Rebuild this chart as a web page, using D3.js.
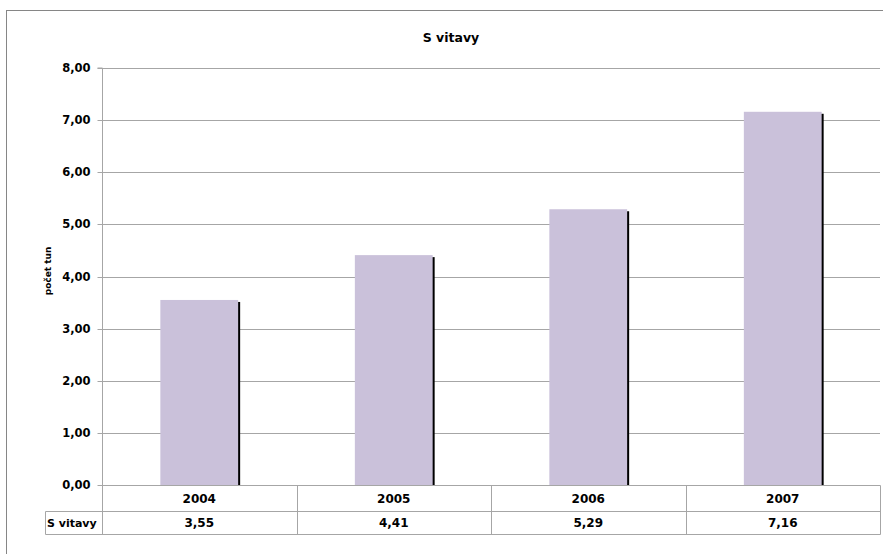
<!DOCTYPE html>
<html><head><meta charset="utf-8">
<script src="https://cdn.jsdelivr.net/npm/d3@7"></script>
<style>body{margin:0;background:#fff}svg{display:block}text{font-family:"DejaVu Sans",sans-serif;font-weight:bold;fill:#000}</style>
</head><body>
<script>
const categories = ["2004","2005","2006","2007"];
const values = [3.55,4.41,5.29,7.16];
const valueLabels = ["3,55","4,41","5,29","7,16"];
const seriesName = "S vitavy";
const title = "S vitavy";
const yTicks = [0,1,2,3,4,5,6,7,8];
const yLabel = "počet tun";

const W=883,H=554;
const L=102,R=880,T=68,B=485;
const svg=d3.select("body").append("svg").attr("width",W).attr("height",H);
svg.append("rect").attr("x",6.5).attr("y",10.5).attr("width",W+20).attr("height",H+20)
  .attr("fill","none").attr("stroke","#868686");

const x=d3.scaleBand().domain(categories).range([L,R]).padding(0);
const y=d3.scaleLinear().domain([0,8]).range([B,T]);
const fmt=d=>d3.format(".2f")(d).replace(".",",");

// gridlines
svg.append("g").selectAll("line").data(yTicks.filter(d=>d>0)).join("line")
  .attr("x1",L).attr("x2",R).attr("y1",d=>Math.round(y(d))+0.5).attr("y2",d=>Math.round(y(d))+0.5)
  .attr("stroke","#a6a6a6");

// y axis
const ax=svg.append("g").attr("transform",`translate(${L+0.5},0)`)
  .call(d3.axisLeft(y).tickValues(yTicks).tickFormat(fmt).tickSize(5).tickPadding(7));
ax.select(".domain").attr("stroke","#a6a6a6").attr("d",`M-5,${T}H0V${B}`);
ax.selectAll(".tick line").attr("stroke","#a6a6a6");
ax.selectAll(".tick").attr("transform",d=>`translate(0,${Math.round(y(d))+0.5})`);
ax.selectAll(".tick text").style("font-size","11.5px").style("font-family","DejaVu Sans").style("font-weight","bold").attr("fill","#000");

// bars
const bw=x.bandwidth()*0.4;
const bx=d=>x(d)+(x.bandwidth()-bw)/2;
const data=categories.map((c,i)=>({c,v:values[i]}));
svg.append("g").selectAll("rect").data(data).join("rect")
  .attr("x",d=>bx(d.c)+2).attr("y",d=>y(d.v)+2).attr("width",bw).attr("height",d=>B-y(d.v)-2)
  .attr("fill","#000");
svg.append("g").selectAll("rect").data(data).join("rect")
  .attr("x",d=>bx(d.c)).attr("y",d=>y(d.v)).attr("width",bw).attr("height",d=>B-y(d.v))
  .attr("fill","#cac1da");

// table
const r1=B, r2=511, r3=534, lx=45;
const tg=svg.append("g").attr("stroke","#a6a6a6").attr("fill","none");
tg.append("path").attr("d",`M${L},${r1+0.5}H${R+0.5}V${r3+0.5}H${lx+0.5}V${r2+0.5}H${R}`);
tg.append("line").attr("x1",L+0.5).attr("x2",L+0.5).attr("y1",r1).attr("y2",r3);
categories.forEach((c,i)=>{ if(i>0){ const xx=Math.round(x(c))+0.5;
  tg.append("line").attr("x1",xx).attr("x2",xx).attr("y1",r1).attr("y2",r3);} });
svg.append("g").selectAll("text").data(categories).join("text")
  .attr("x",d=>x(d)+x.bandwidth()/2).attr("y",503).attr("text-anchor","middle")
  .style("font-size","12px").text(d=>d);
svg.append("g").selectAll("text").data(valueLabels).join("text")
  .attr("x",(d,i)=>x(categories[i])+x.bandwidth()/2).attr("y",527).attr("text-anchor","middle")
  .style("font-size","12px").text(d=>d);
svg.append("text").attr("x",47).attr("y",527).style("font-size","11px").text(seriesName);

// title
svg.append("text").attr("x",451).attr("y",42).attr("text-anchor","middle").style("font-size","12.5px").text(title);
// y label
svg.append("text").attr("transform","translate(51,271) rotate(-90)").attr("text-anchor","middle")
  .style("font-size","9px").text(yLabel);
</script>
</body></html>
